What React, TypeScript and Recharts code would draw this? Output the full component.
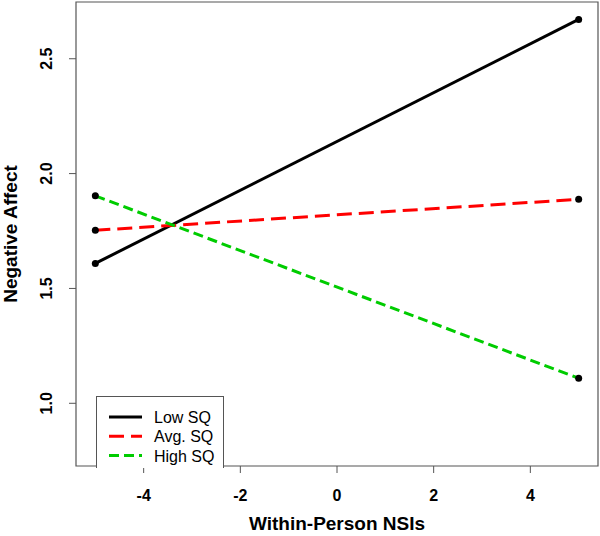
import React from 'react';
import { LineChart, Line, XAxis, YAxis, ReferenceArea } from 'recharts';

// endpoints of the simple slopes
const X_VALUES = [-5, 5];
const LOW_SQ = [1.609, 2.671];
const AVG_SQ = [1.753, 1.888];
const HIGH_SQ = [1.903, 1.109];

const X_TICKS = [-4, -2, 0, 2, 4];
const Y_TICKS = [1.0, 1.5, 2.0, 2.5];
const X_DOMAIN = [-5.4, 5.4];
const Y_DOMAIN = [0.727, 2.747];

const SERIES = [
  { key: 'low', label: 'Low SQ', color: '#000000', dash: undefined as string | undefined },
  { key: 'avg', label: 'Avg. SQ', color: '#ff0000', dash: '15 7' },
  { key: 'high', label: 'High SQ', color: '#00cc00', dash: '10 5' },
];

const data = X_VALUES.map((x, i) => ({ x, low: LOW_SQ[i], avg: AVG_SQ[i], high: HIGH_SQ[i] }));

const FONT = '"Liberation Sans", Arial, Helvetica, sans-serif';
const AXIS = '#555';

const XTick = (props: any) => {
  const { x, y, payload } = props;
  return (
    <text x={x} y={y + 26} textAnchor="middle" fontFamily={FONT} fontWeight="bold" fontSize={16} fill="#000">
      {payload.value}
    </text>
  );
};

const YTick = (props: any) => {
  const { y, payload } = props;
  const tx = 52;
  return (
    <text
      x={tx}
      y={y}
      transform={`rotate(-90, ${tx}, ${y})`}
      textAnchor="middle"
      fontFamily={FONT}
      fontWeight="bold"
      fontSize={16}
      fill="#000"
    >
      {Number(payload.value).toFixed(1)}
    </text>
  );
};

export default function App() {
  return (
    <div style={{ position: 'relative', width: 600, height: 536, background: '#fff' }}>
      <style>{'body{margin:0}'}</style>
      <LineChart width={600} height={536} data={data} margin={{ top: 2, right: 2, bottom: 0, left: 0 }}>
        <XAxis
          dataKey="x"
          type="number"
          domain={X_DOMAIN}
          ticks={X_TICKS}
          height={70}
          axisLine={false}
          tickLine={{ stroke: AXIS }}
          tickSize={7}
          tick={<XTick />}
          interval={0}
        />
        <YAxis
          type="number"
          domain={Y_DOMAIN}
          ticks={Y_TICKS}
          width={76}
          axisLine={false}
          tickLine={{ stroke: AXIS }}
          tickSize={7}
          tick={<YTick />}
          interval={0}
        />
        <ReferenceArea
          x1={X_DOMAIN[0]}
          x2={X_DOMAIN[1]}
          y1={Y_DOMAIN[0]}
          y2={Y_DOMAIN[1]}
          fill="none"
          stroke={AXIS}
          strokeWidth={1.2}
        />
        {SERIES.map((s) => (
          <Line
            key={s.key}
            dataKey={s.key}
            stroke={s.color}
            strokeWidth={3}
            strokeDasharray={s.dash}
            dot={{ r: 3.5, fill: '#000', stroke: 'none' }}
            activeDot={false}
            isAnimationActive={false}
          />
        ))}
      </LineChart>
      <svg width={600} height={536} style={{ position: 'absolute', left: 0, top: 0, pointerEvents: 'none' }}>
        <text
          x={17}
          y={234}
          transform="rotate(-90, 17, 234)"
          textAnchor="middle"
          fontFamily={FONT}
          fontWeight="bold"
          fontSize={19}
          fill="#000"
        >
          Negative Affect
        </text>
        <text x={337} y={530} textAnchor="middle" fontFamily={FONT} fontWeight="bold" fontSize={19} fill="#000">
          Within-Person NSIs
        </text>
      </svg>
      <div
        style={{
          position: 'absolute',
          left: 95.5,
          top: 395.5,
          width: 126,
          height: 71.5,
          background: '#fff',
          borderLeft: `1.2px solid ${AXIS}`,
          borderTop: `1.2px solid ${AXIS}`,
          borderRight: `1.2px solid ${AXIS}`,
        }}
      >
        <svg width={126} height={72}>
          {SERIES.map((s, i) => {
            const cy = 20 + i * 19.3;
            return (
              <g key={s.key}>
                <line x1={12} x2={45} y1={cy} y2={cy} stroke={s.color} strokeWidth={3} strokeDasharray={s.dash} />
                <text x={57} y={cy + 6} fontFamily={FONT} fontSize={16} fill="#000">
                  {s.label}
                </text>
              </g>
            );
          })}
        </svg>
      </div>
    </div>
  );
}
